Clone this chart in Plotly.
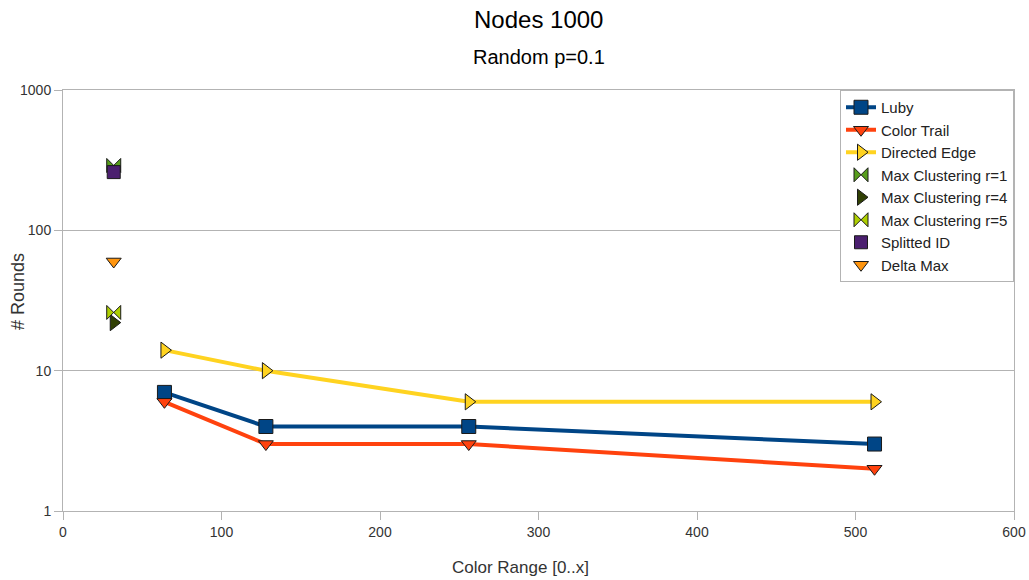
import plotly.graph_objects as go

x_main = [64, 128, 256, 512]
luby = [7, 4, 4, 3]
color_trail = [6, 3, 3, 2]
directed_edge = [14, 10, 6, 6]
x_single = [32]
max_clust_r1 = [290]
max_clust_r4 = [22]
max_clust_r5 = [26]
splitted_id = [260]
delta_max = [60]

series = [
    ("Luby", x_main, luby, "#004586", "square", 14, True),
    ("Color Trail", x_main, color_trail, "#ff420e", "triangle-down", 13, True),
    ("Directed Edge", x_main, directed_edge, "#ffd320", "triangle-right", 14, True),
    ("Max Clustering r=1", x_single, max_clust_r1, "#579d1c", "bowtie", 14, False),
    ("Max Clustering r=4", x_single, max_clust_r4, "#314004", "triangle-right", 14, False),
    ("Max Clustering r=5", x_single, max_clust_r5, "#aecf00", "bowtie", 14, False),
    ("Splitted ID", x_single, splitted_id, "#4b1f6f", "square", 13, False),
    ("Delta Max", x_single, delta_max, "#ff950e", "triangle-down", 13, False),
]

fig = go.Figure()
for name, xs, ys, col, sym, sz, line in series:
    fig.add_trace(go.Scatter(
        x=xs, y=ys, name=name,
        mode="lines+markers" if line else "markers",
        line=dict(color=col, width=4),
        marker=dict(symbol=sym, size=sz, color=col, line=dict(color="#1a1a1a", width=1)),
    ))

W, H = 1029, 580
L, R, T, B = 63, 15, 90, 69
ph = H - T - B
pw = W - L - R

def px_x(p):
    return (p - L) / pw

def px_y(p):
    return 1 - (p - T) / ph

fig.update_layout(
    width=W, height=H,
    margin=dict(l=L, r=R, t=T, b=B, autoexpand=False),
    paper_bgcolor="white", plot_bgcolor="white",
    font=dict(family="Liberation Sans, Arial, sans-serif", size=14, color="#333333"),
    showlegend=True,
    legend=dict(x=1, y=1, xanchor="right", yanchor="top",
                bordercolor="#b3b3b3", borderwidth=1, bgcolor="white",
                font=dict(size=15, color="#222222"), itemwidth=30, tracegroupgap=0),
    xaxis=dict(range=[0, 600], dtick=100, showgrid=False, showline=True, mirror=True,
               linecolor="#b3b3b3", linewidth=1, ticks="outside", ticklen=8,
               tickcolor="#b3b3b3", zeroline=False, automargin=False,
               tickfont=dict(size=14)),
    yaxis=dict(type="log", range=[0, 3], tickvals=[1, 10, 100, 1000],
               ticktext=["1", "10", "100", "1000"], showgrid=True,
               gridcolor="#b3b3b3", showline=True, mirror=True, linecolor="#b3b3b3",
               ticks="outside", ticklen=8, tickcolor="#b3b3b3", zeroline=False,
               automargin=False, tickfont=dict(size=14)),
    annotations=[
        dict(text="Nodes 1000", x=0.5, y=px_y(19), xref="paper", yref="paper",
             yanchor="middle", showarrow=False, font=dict(size=24, color="#000000")),
        dict(text="Random p=0.1", x=0.5, y=px_y(57), xref="paper", yref="paper",
             yanchor="middle", showarrow=False, font=dict(size=20, color="#000000")),
        dict(text="Color Range [0..x]", x=px_x(520), y=px_y(567), xref="paper", yref="paper",
             xanchor="center", yanchor="middle", showarrow=False,
             font=dict(size=17, color="#333333")),
        dict(text="# Rounds", x=px_x(18), y=px_y(292), xref="paper", yref="paper",
             xanchor="center", yanchor="middle", textangle=-90, showarrow=False,
             font=dict(size=18, color="#333333")),
    ],
)
fig.write_html("out.html", config={"displayModeBar": False},
               post_script="document.body.style.margin='0';document.body.style.overflow='hidden';")
